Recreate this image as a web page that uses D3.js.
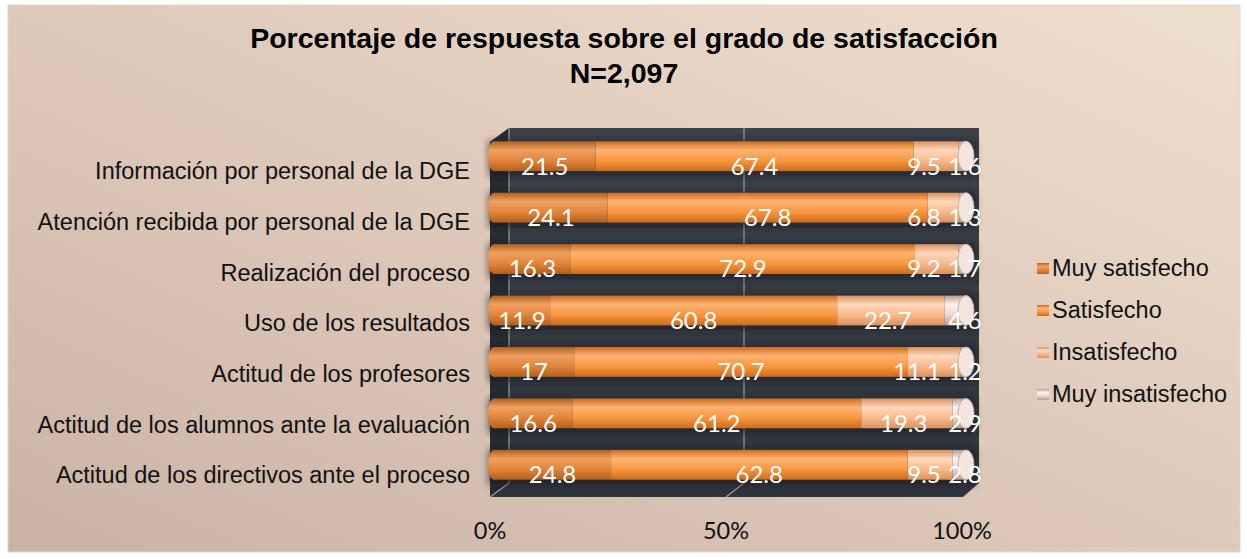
<!DOCTYPE html>
<html>
<head>
<meta charset="utf-8">
<script src="https://cdn.jsdelivr.net/npm/d3@7"></script>
<style>
  body { margin: 0; background: #fff; }
  svg { display: block; }
</style>
</head>
<body>
<script>
var w = 1247,
    h = 559;

// Data
var categories = [
  'Información por personal de la DGE',
  'Atención recibida por personal de la DGE',
  'Realización del proceso',
  'Uso de los resultados',
  'Actitud de los profesores',
  'Actitud de los alumnos ante la evaluación',
  'Actitud de los directivos ante el proceso'
];
var seriesNames = ['Muy satisfecho', 'Satisfecho', 'Insatisfecho', 'Muy insatisfecho'];
var muySatisfecho   = [21.5, 24.1, 16.3, 11.9, 17, 16.6, 24.8];
var satisfecho      = [67.4, 67.8, 72.9, 60.8, 70.7, 61.2, 62.8];
var insatisfecho    = [9.5, 6.8, 9.2, 22.7, 11.1, 19.3, 9.5];
var muyInsatisfecho = [1.6, 1.3, 1.7, 4.6, 1.2, 2.9, 2.8];
var tickValues = [0, 50, 100];

var seriesValues = [muySatisfecho, satisfecho, insatisfecho, muyInsatisfecho];
// colours for each series: [edge, highlight, base]
var seriesColors = [
  ['#b0601e', '#f0a060', '#e2843a'],
  ['#cc6c1e', '#ffb374', '#f8963e'],
  ['#d9925e', '#ffd8bc', '#f9b98a'],
  ['#b89c94', '#fff2ec', '#ecd4cc']
];

var svg = d3.select('body')
            .append('svg')
            .attr('width', w)
            .attr('height', h);

var defs = svg.append('defs');

// panel background
var bg = defs.append('linearGradient')
             .attr('id', 'bg')
             .attr('x1', 0).attr('y1', 1)
             .attr('x2', 1).attr('y2', 0);
bg.append('stop').attr('offset', 0).attr('stop-color', '#c9b3a6');
bg.append('stop').attr('offset', 0.45).attr('stop-color', '#dcc7b9');
bg.append('stop').attr('offset', 1).attr('stop-color', '#efdfcf');

var wall = defs.append('linearGradient')
               .attr('id', 'wall')
               .attr('x1', 0).attr('y1', 0)
               .attr('x2', 0).attr('y2', 1);
wall.append('stop').attr('offset', 0).attr('stop-color', '#3c414a');
wall.append('stop').attr('offset', 1).attr('stop-color', '#30353c');

// cylinder shading, one per series
seriesColors.forEach(function(c, i) {
  var g = defs.append('linearGradient')
              .attr('id', 'cyl' + i)
              .attr('x1', 0).attr('y1', 0)
              .attr('x2', 0).attr('y2', 1);
  g.append('stop').attr('offset', 0).attr('stop-color', c[0]);
  g.append('stop').attr('offset', 0.3).attr('stop-color', c[1]);
  g.append('stop').attr('offset', 0.65).attr('stop-color', c[2]);
  g.append('stop').attr('offset', 1).attr('stop-color', c[0]);
});

var blur = defs.append('filter').attr('id', 'glow')
               .attr('x', -0.05).attr('y', -0.5).attr('width', 1.1).attr('height', 2);
blur.append('feGaussianBlur').attr('stdDeviation', 3);

svg.append('rect')
   .attr('x', 8).attr('y', 5)
   .attr('width', 1232).attr('height', 547)
   .style('fill', 'url(#bg)')
   .style('stroke', '#e6d6ca')
   .style('stroke-width', 1);

// Title
var title = svg.append('text')
               .attr('text-anchor', 'middle')
               .style('font-family', 'Liberation Sans, Arial, sans-serif')
               .style('font-weight', 'bold')
               .style('font-size', '28.5px');
title.append('tspan').attr('x', 624).attr('y', 48)
     .text('Porcentaje de respuesta sobre el grado de satisfacción');
title.append('tspan').attr('x', 624).attr('y', 83).text('N=2,097');

// Scales
var x = d3.scaleLinear().domain([0, 100]).range([494, 966]);     // bars
var xBack = d3.scaleLinear().domain([0, 100]).range([509, 979]); // back wall
var xFront = d3.scaleLinear().domain([0, 100]).range([490, 962]); // floor edge
var y = d3.scaleBand().domain(categories).range([131, 490])
          .paddingInner(0.42).paddingOuter(0.2);

var wallTop = 128, wallBottom = 483, floorY = 497, depth = 16;

// walls
svg.append('path')
   .attr('d', 'M' + (xBack(0) - 19) + ',' + (wallTop + 14) +
              'L' + xBack(0) + ',' + wallTop +
              'L' + xBack(100) + ',' + wallTop +
              'L' + xBack(100) + ',' + wallBottom +
              'L' + (xBack(100) - depth) + ',' + floorY +
              'L' + (xBack(0) - 19) + ',' + floorY + 'Z')
   .style('fill', 'url(#wall)');

svg.append('path')
   .attr('d', 'M' + (xBack(0) - 19) + ',' + (wallTop + 14) +
              'L' + xBack(0) + ',' + wallTop +
              'L' + xBack(0) + ',' + wallBottom +
              'L' + (xBack(0) - 19) + ',' + floorY + 'Z')
   .style('fill', '#282c32');

// gridlines on back wall and floor
svg.selectAll('.grid')
   .data(tickValues.slice(0, 2))
   .enter()
   .append('path')
   .attr('class', 'grid')
   .attr('d', function(d) {
      return 'M' + xBack(d) + ',' + wallTop + 'L' + xBack(d) + ',' + wallBottom +
             'L' + xFront(d) + ',' + floorY;
   })
   .style('fill', 'none')
   .style('stroke', '#9aa0a8')
   .style('stroke-width', 1.2);

// stack the data
var rows = categories.map(function(c, i) {
  var x0 = 0;
  return seriesValues.map(function(vals, s) {
    var seg = { cat: c, s: s, v: vals[i], x0: x0, x1: x0 + vals[i] };
    x0 += vals[i];
    return seg;
  });
});

var bh = y.bandwidth();

var bars = svg.selectAll('.row')
              .data(rows)
              .enter()
              .append('g')
              .attr('class', 'row');

// dark shadow behind each bar
bars.append('rect')
    .attr('x', function(d) { return x(0) - 6; })
    .attr('y', function(d) { return y(d[0].cat) - 1; })
    .attr('width', x(100) - x(0) + 16)
    .attr('height', bh + 6)
    .style('fill', '#15171a')
    .style('opacity', 0.55)
    .attr('filter', 'url(#glow)');

// left caps
bars.append('ellipse')
    .attr('cx', x(0))
    .attr('cy', function(d) { return y(d[0].cat) + bh / 2; })
    .attr('rx', 6)
    .attr('ry', bh / 2)
    .style('fill', 'url(#cyl0)');

bars.selectAll('.seg')
    .data(function(d) { return d; })
    .enter()
    .append('rect')
    .attr('class', 'seg')
    .attr('x', function(d) { return x(d.x0); })
    .attr('y', function(d) { return y(d.cat); })
    .attr('width', function(d) { return Math.max(0, x(d.x1) - x(d.x0)); })
    .attr('height', bh)
    .style('fill', function(d) { return 'url(#cyl' + d.s + ')'; });

// right caps
bars.append('ellipse')
    .attr('cx', x(100))
    .attr('cy', function(d) { return y(d[0].cat) + bh / 2; })
    .attr('rx', 8)
    .attr('ry', bh / 2)
    .style('fill', '#f3e4de')
    .style('stroke', '#c9b0a8')
    .style('stroke-width', 1);

// value labels
bars.selectAll('.val')
    .data(function(d) { return d; })
    .enter()
    .append('text')
    .attr('class', 'val')
    .attr('x', function(d) {
       var cx = (x(d.x0) + x(d.x1)) / 2;
       if (d.s === 3) { cx = x(100) - 1; }
       if (d.s === 2) {
         var limit = String(d.v).length > 3 ? 49 : 42; // keep clear of last label
         cx = Math.min(cx - 3, x(100) - limit);
       }
       return cx;
    })
    .attr('y', function(d) { return y(d.cat) + bh / 2 + 10; })
    .attr('dy', '0.35em')
    .attr('text-anchor', 'middle')
    .style('font-family', 'Lato, sans-serif')
    .style('font-size', '24px')
    .style('fill', '#fff')
    .text(function(d) { return d.v; });

// category labels
svg.selectAll('.cat')
   .data(categories)
   .enter()
   .append('text')
   .attr('class', 'cat')
   .attr('x', 470)
   .attr('y', function(d, i) { return y(d) + bh / 2 + 15 - i * 0.8; })
   .attr('dy', '0.35em')
   .attr('text-anchor', 'end')
   .style('font-family', 'Liberation Sans, Arial, sans-serif')
   .style('font-size', '23.5px')
   .style('fill', '#111')
   .text(function(d) { return d; });

// x axis labels
svg.selectAll('.tick')
   .data(tickValues)
   .enter()
   .append('text')
   .attr('class', 'tick')
   .attr('x', function(d) { return xFront(d); })
   .attr('y', 531)
   .attr('dy', '0.35em')
   .attr('text-anchor', 'middle')
   .style('font-family', 'Lato, sans-serif')
   .style('font-size', '23.5px')
   .style('fill', '#111')
   .text(function(d) { return d + '%'; });

// Legend
var legend = svg.selectAll('.legend')
                .data(seriesNames)
                .enter()
                .append('g')
                .attr('class', 'legend')
                .attr('transform', function(d, i) {
                   return 'translate(1037,' + (268 + i * 42) + ')';
                });

legend.append('rect')
      .attr('x', 0)
      .attr('y', -5)
      .attr('width', 12)
      .attr('height', 11)
      .style('fill', function(d, i) { return 'url(#cyl' + i + ')'; });

legend.append('text')
      .attr('x', 15)
      .attr('y', 0)
      .attr('dy', '0.35em')
      .style('font-family', 'Liberation Sans, Arial, sans-serif')
      .style('font-size', '23.5px')
      .style('fill', '#111')
      .text(function(d) { return d; });
</script>
</body>
</html>
